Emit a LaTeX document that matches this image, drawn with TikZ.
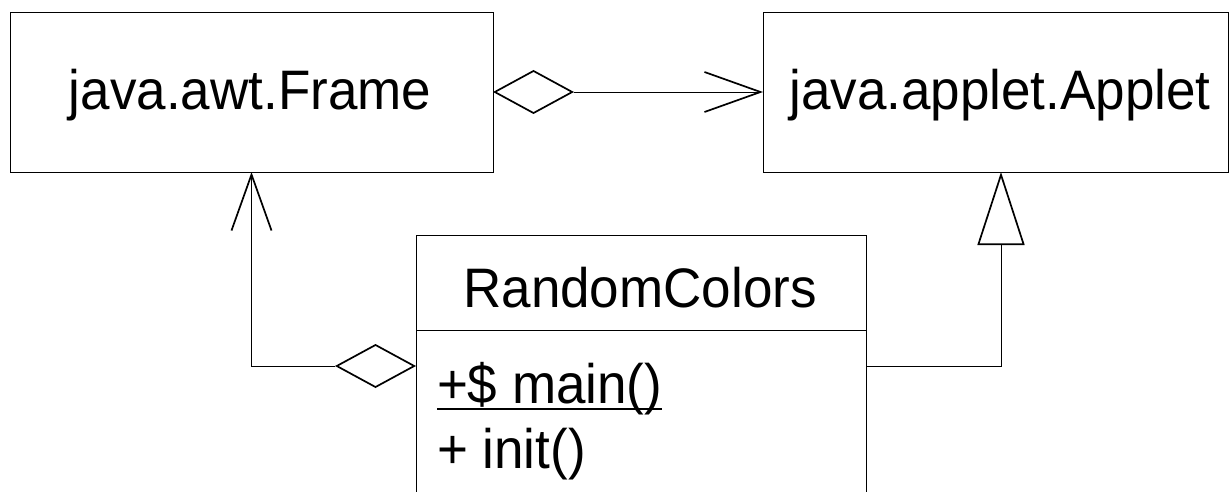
\documentclass[tikz,border=0pt]{standalone}
\usepackage{fontspec}
\setmainfont{Liberation Sans}
\usetikzlibrary{arrows.meta}

% slightly taller lettering for the class names and operations
\newcommand{\umltext}[1]{\scalebox{1}[1.05]{#1}}

\tikzset{
  x=1pt, y=-1pt,
  line width=1.7pt,
  umlbox/.style={draw, rectangle, inner sep=0pt, outer sep=0pt},
  lbl/.style={inner sep=0pt, outer sep=0pt, font=\fontsize{53}{60}\selectfont},
  assoc/.style={
    {Diamond[open, length=81pt, width=44pt, line width=1.7pt]}-{Straight Barb[length=56pt, width=40pt, line width=1.7pt]}},
  gen/.style={-{Triangle[open, length=73pt, width=47pt, line width=1.7pt]}}
}

\begin{document}
\begin{tikzpicture}
\useasboundingbox (0,0) rectangle (1230,492);

% class boxes
\node[umlbox, minimum width=483pt, minimum height=160pt] (frame) at (251.5,92) {};
\node[umlbox, minimum width=465pt, minimum height=160pt] (applet) at (995.5,92) {};
\node[umlbox, minimum width=450pt, minimum height=262pt] (rc) at (641,366) {};

% compartment separator of RandomColors
\draw (rc.west |- 0,330) coordinate (sepL) -- (rc.east |- 0,330) coordinate (sepR);

% class names and operations
\node[lbl, anchor=base] (frameName) at (250,110) {\umltext{java.awt.Frame}};
\node[lbl, anchor=base] (appletName) at (1000,110) {\umltext{java.applet.Applet}};
\node[lbl, anchor=base] (rcName) at (640,307) {\umltext{RandomColors}};
\node[lbl, anchor=base west] (opMain) at (437,403) {\umltext{+\$ main()}};
\node[lbl, anchor=base west] (opInit) at (437,468) {\umltext{+ init()}};
\draw[line width=2.6pt] ([yshift=-6pt]opMain.base west) -- ([yshift=-6pt]opMain.base east);

% relationships
\draw[assoc] (frame.east) -- (applet.west);
\draw[assoc] (rc.west) -| (frame.south);
\draw[gen] (rc.east) -| ([xshift=5.5pt]applet.south);
\end{tikzpicture}
\end{document}
